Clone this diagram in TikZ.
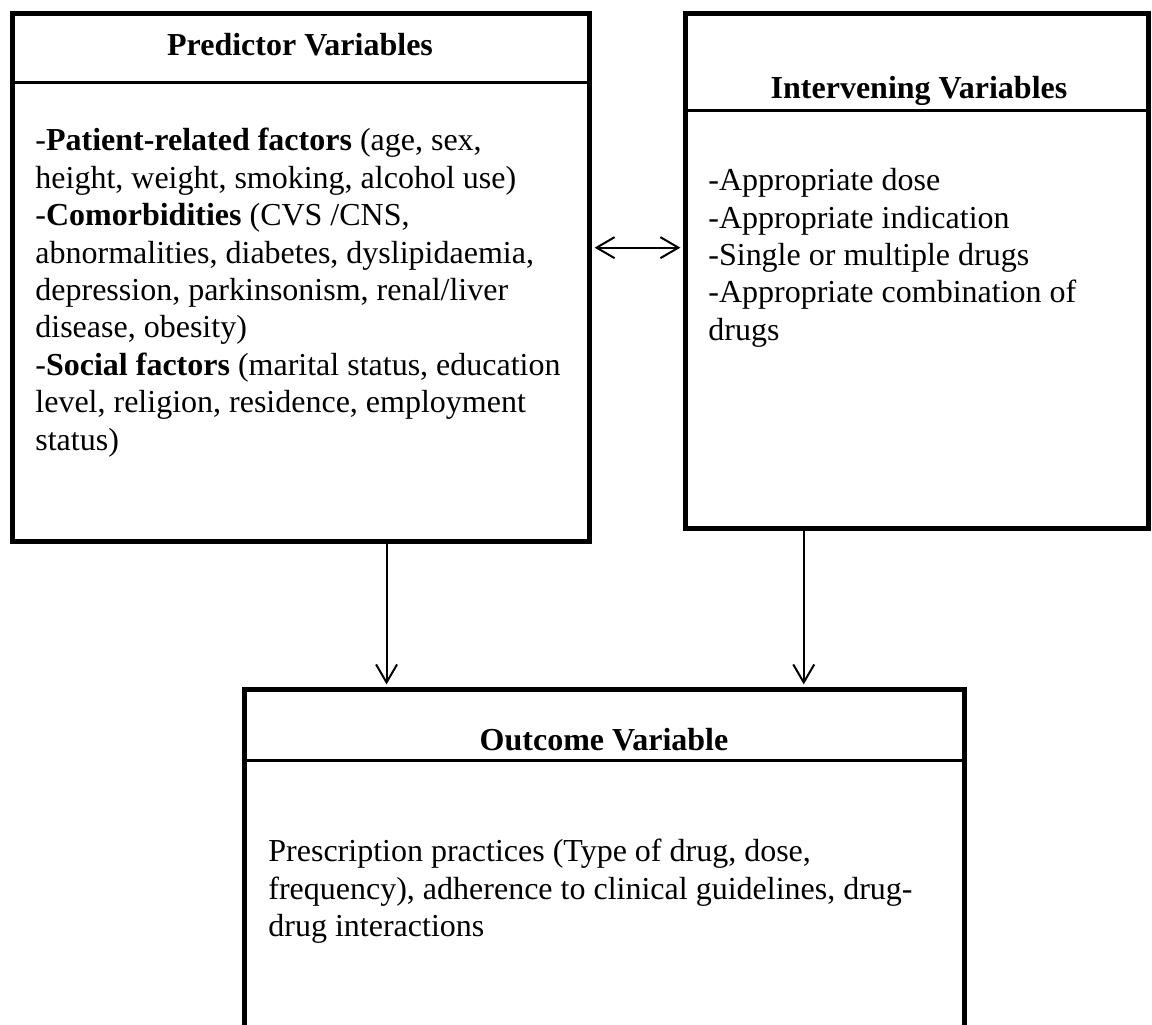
\documentclass[tikz,border=0pt]{standalone}
\usepackage{fontspec}
\setmainfont{Liberation Serif}
\usetikzlibrary{arrows.meta}
\usetikzlibrary{calc}
\newcommand{\varfont}{\fontsize{16}{18.7}\selectfont}
\tikzset{varbox/.style={draw, line width=2.5pt, inner sep=0pt}}
\tikzset{divider/.style={line width=1.1pt}}
\tikzset{head/.style={font=\varfont\bfseries, inner sep=0pt, anchor=base}}
\tikzset{body/.style={align=left, inner sep=0pt, anchor=north west}}
\tikzset{flow/.style={line width=1pt, -{Straight Barb[length=9pt,width=10.5pt,line width=1pt]}}}

\begin{document}
\begin{tikzpicture}[x=0.5pt,y=-0.5pt,font=\varfont]
        \useasboundingbox (0,0) rectangle (1152,1024);
        \clip (0,0) rectangle (1152,1024);

        % the three boxes
        \node[varbox, minimum width=288.5pt, minimum height=264pt] (pred) at (301,277.5) {};
        \node[varbox, minimum width=231.5pt, minimum height=257.5pt] (interv) at (917,271) {};
        \node[varbox, minimum width=360pt, minimum height=205.25pt] (outc) at (604.5,894.75) {};

        \draw[divider] ([yshift=-35.75pt]pred.north west) -- ([yshift=-35.75pt]pred.north east);
        \draw[divider] ([yshift=-49.75pt]interv.north west) -- ([yshift=-49.75pt]interv.north east);
        \draw[divider] ([yshift=-36.75pt]outc.north west) -- ([yshift=-36.75pt]outc.north east);

        \node[head] (predhead) at (300,55) {Predictor Variables};
        \node[head] (intervhead) at (919,98) {Intervening Variables};
        \node[head] (outchead) at (604,750) {Outcome Variable};

        \node[body] (predtext) at (35,128) {%
            -\textbf{Patient-related factors} (age, sex,\\
            height, weight, smoking, alcohol use)\\
            -\textbf{Comorbidities} (CVS /CNS,\\
            abnormalities, diabetes, dyslipidaemia,\\
            depression, parkinsonism, renal/liver\\
            disease, obesity)\\
            -\textbf{Social factors} (marital status, education\\
            level, religion, residence, employment\\
            status)};

        \node[body] (intervtext) at (708,168) {%
            -Appropriate dose\\
            -Appropriate indication\\
            -Single or multiple drugs\\
            -Appropriate combination of\\
            drugs};

        \node[body] (outctext) at (268,839) {%
            Prescription practices (Type of drug, dose,\\
            frequency), adherence to clinical guidelines, drug-\\
            drug interactions};

        % links between the boxes
        \coordinate (predout) at ($(pred.south west)!0.647!(pred.south east)$);
        \coordinate (intervout) at ($(interv.south west)!0.258!(interv.south east)$);
        \coordinate (mid) at ($(pred.north east)!0.444!(pred.south east)$);

        \draw[flow, shorten >=1.3pt] (predout) -- (predout |- outc.north);
        \draw[flow, shorten >=1.3pt] (intervout) -- (intervout |- outc.north);
        \draw[flow, {Straight Barb[length=9pt,width=10.5pt,line width=1pt]}-{Straight Barb[length=9pt,width=10.5pt,line width=1pt]}, shorten >=1.3pt, shorten <=1.3pt] (mid) -- (mid -| interv.west);
    \end{tikzpicture}
\end{document}
